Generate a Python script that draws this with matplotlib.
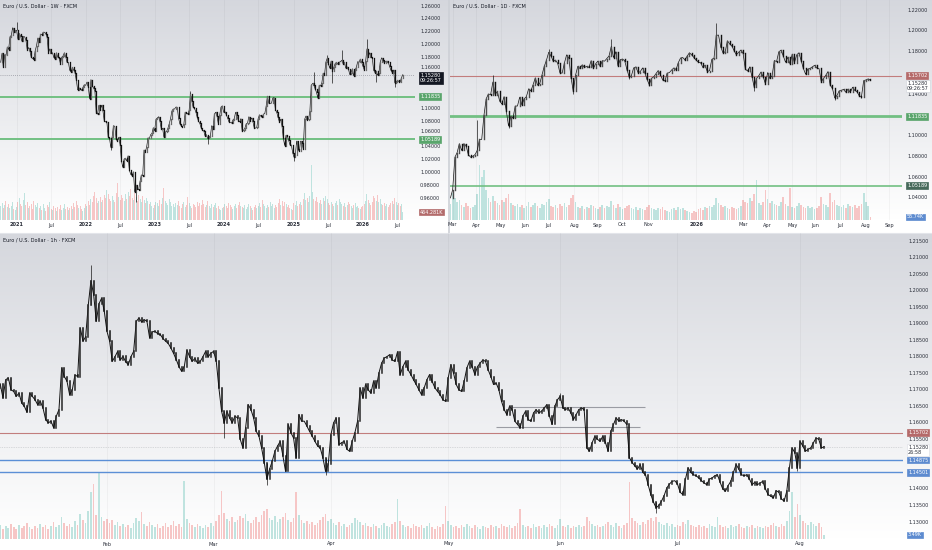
"""
EUR/USD multi timeframe layout: 1W / 1D / 1h panels, TradingView-like look
"""
import numpy as np
import pandas as pd
import matplotlib
matplotlib.use("Agg")
import matplotlib.pyplot as plt
from matplotlib.lines import Line2D
from matplotlib.transforms import blended_transform_factory

W, H = 932, 550

# ---------------- weekly (one candle per week from 2020-10-12) ----------------
weekly_start = "2020-10-12"
weekly_close = [
    1.172, 1.186, 1.164, 1.184, 1.183, 1.196, 1.192, 1.212, 1.214, 1.226, 1.219, 1.222,
    # 2021
    1.222, 1.208, 1.217, 1.213, 1.205, 1.212, 1.212, 1.207, 1.192, 1.195, 1.190, 1.180, 1.178,
    1.176, 1.190, 1.198, 1.210, 1.203, 1.216, 1.215, 1.219, 1.219, 1.217, 1.211, 1.187, 1.193,
    1.186, 1.187, 1.180, 1.177, 1.187, 1.180, 1.179, 1.170, 1.180, 1.182, 1.187, 1.181, 1.172,
    1.172, 1.160, 1.157, 1.164, 1.160, 1.156, 1.144, 1.129, 1.132, 1.131, 1.128, 1.133, 1.137,
    # 2022
    1.136, 1.141, 1.134, 1.115, 1.145, 1.135, 1.132, 1.127, 1.093, 1.091, 1.105, 1.098,
    1.105, 1.097, 1.081, 1.079, 1.079, 1.055, 1.053, 1.039, 1.056, 1.073, 1.072, 1.052, 1.049,
    1.055, 1.043, 1.018, 1.008, 1.021, 1.022, 1.018, 1.026, 1.003, 0.997, 0.995, 1.001, 0.969,
    0.980, 0.974, 0.973, 0.986, 0.996, 0.995, 1.035, 1.032, 1.040, 1.054, 1.053, 1.059, 1.061,
    1.070,
    # 2023
    1.065, 1.083, 1.085, 1.087, 1.080, 1.068, 1.069, 1.055, 1.063, 1.064, 1.069, 1.076, 1.084,
    1.096, 1.099, 1.099, 1.102, 1.102, 1.085, 1.076, 1.073, 1.071, 1.075, 1.094, 1.093, 1.091,
    1.097, 1.123, 1.112, 1.102, 1.100, 1.095, 1.087, 1.080, 1.077, 1.070, 1.066, 1.065, 1.057,
    1.059, 1.053, 1.055, 1.057, 1.073, 1.068, 1.091, 1.094, 1.088, 1.076, 1.089, 1.102, 1.104,
    # 2024
    1.094, 1.095, 1.090, 1.085, 1.079, 1.078, 1.077, 1.082, 1.084, 1.094, 1.089, 1.081, 1.079,
    1.084, 1.064, 1.066, 1.069, 1.076, 1.077, 1.087, 1.081, 1.085, 1.080, 1.070, 1.069, 1.071,
    1.084, 1.090, 1.088, 1.086, 1.091, 1.092, 1.103, 1.119, 1.108, 1.108, 1.108, 1.116, 1.117,
    1.098, 1.094, 1.086, 1.079, 1.083, 1.072, 1.053, 1.042, 1.058, 1.057, 1.050, 1.043, 1.043,
    1.031,
    # 2025
    1.024, 1.027, 1.049, 1.036, 1.033, 1.049, 1.046, 1.037, 1.083, 1.088, 1.082, 1.083,
    1.096, 1.136, 1.139, 1.137, 1.130, 1.125, 1.116, 1.136, 1.135, 1.140, 1.155, 1.152, 1.172,
    1.178, 1.169, 1.163, 1.174, 1.159, 1.164, 1.170, 1.172, 1.169, 1.172, 1.173, 1.175, 1.170,
    1.172, 1.163, 1.165, 1.162, 1.153, 1.156, 1.162, 1.151, 1.160, 1.164, 1.173, 1.172, 1.177,
    1.172,
    # 2026
    1.166, 1.160, 1.174, 1.193, 1.180, 1.187, 1.181, 1.179, 1.160, 1.156, 1.158, 1.152, 1.156,
    1.172, 1.179, 1.176, 1.171, 1.173, 1.174, 1.172, 1.166, 1.160, 1.156, 1.160, 1.140, 1.141,
    1.144, 1.142, 1.141, 1.148, 1.1528,
]
weekly_vol = [
    14, 17, 12, 15, 19, 13, 16, 12, 14, 18, 11, 10,
    13, 18, 22, 16, 14, 20, 27, 15, 18, 12, 14, 16, 11, 19, 15, 13, 17, 12, 14, 10,
    16, 12, 9, 15, 13, 18, 11, 10, 14, 12, 9, 13, 11, 15, 10, 12, 16, 11, 13, 10,
    12, 14, 11, 17, 13, 19, 15, 12, 14, 11, 9, 12,
    16, 14, 19, 15, 21, 18, 24, 28, 22, 17, 19, 23, 18, 20, 25, 22, 30, 26, 21, 19,
    24, 20, 18, 27, 37, 23, 20, 25, 22, 19, 26, 21, 28, 24, 31, 22, 20, 27, 23, 19,
    25, 21, 18, 24, 20, 17, 22, 19, 16, 18, 14, 12,
    15, 18, 17, 14, 20, 16, 22, 32, 19, 17, 15, 21, 18, 14, 16, 13, 17, 15, 19, 14,
    12, 16, 18, 13, 15, 23, 17, 14, 12, 16, 15, 13, 18, 14, 17, 15, 20, 16, 13, 15,
    19, 14, 12, 16, 13, 15, 17, 12, 14, 11, 10, 12,
    13, 16, 14, 12, 17, 15, 13, 11, 14, 16, 12, 15, 18, 14, 13, 12, 15, 11, 13, 16,
    14, 12, 10, 13, 15, 12, 14, 17, 13, 20, 16, 14, 12, 15, 13, 18, 14, 16, 12, 15,
    13, 17, 21, 15, 19, 14, 18, 16, 13, 15, 12, 11, 10,
    17, 15, 19, 14, 16, 18, 15, 21, 27, 20, 22, 18, 24, 55, 28, 21, 19, 23, 18, 17,
    20, 16, 22, 19, 24, 21, 17, 15, 18, 16, 14, 17, 19, 15, 21, 18, 16, 14, 17, 13,
    15, 18, 16, 14, 12, 15, 17, 13, 14, 12, 11, 13,
    14, 16, 19, 26, 20, 17, 15, 18, 24, 22, 19, 25, 18, 21, 16, 15, 17, 14, 16, 13,
    15, 17, 19, 16, 22, 18, 15, 17, 14, 16, 8,
]
weekly_wicks = {12: 1.2345, 83: 1.0350, 102: 0.9540, 143: 1.1276, 156: 1.0448,
                221: 1.0178, 236: 1.1573, 246: 1.1830, 250: 1.1391, 257: 1.1918,
                276: 1.2080, 283: 1.1420, 297: 1.1335}
weekly_levels = [1.11835, 1.05189]
weekly_ticks = ["2021-01", "2021-07", "2022-01", "2022-07", "2023-01", "2023-07",
                "2024-01", "2024-07", "2025-01", "2025-07", "2026-01", "2026-07"]

# ---------------- daily (one candle every 2 sessions from 2025-02-27) ----------------
daily_start = "2025-02-27"
daily_close = [
    1.0400, 1.0480, 1.0790, 1.0835, 1.0920, 1.0855, 1.0920, 1.0900, 1.0815, 1.0790,
    1.0800, 1.0815, 1.0855, 1.0960, 1.0960, 1.1190, 1.1350, 1.1395, 1.1390, 1.1510,
    1.1390, 1.1420, 1.1330, 1.1300, 1.1370, 1.1235, 1.1090, 1.1180, 1.1165, 1.1280,
    1.1280, 1.1365, 1.1290, 1.1350, 1.1370, 1.1445, 1.1425, 1.1485, 1.1550, 1.1480,
    1.1495, 1.1580, 1.1660, 1.1720, 1.1795, 1.1760, 1.1710, 1.1720, 1.1690, 1.1600,
    1.1595, 1.1690, 1.1770, 1.1740, 1.1550, 1.1420, 1.1575, 1.1660, 1.1640, 1.1675,
    1.1650, 1.1660, 1.1650, 1.1715, 1.1640, 1.1685, 1.1710, 1.1660, 1.1715, 1.1710,
    1.1735, 1.1760, 1.1850, 1.1745, 1.1800, 1.1665, 1.1725, 1.1730, 1.1715, 1.1630,
    1.1560, 1.1570, 1.1645, 1.1655, 1.1600, 1.1610, 1.1645, 1.1600, 1.1535, 1.1485,
    1.1545, 1.1560, 1.1590, 1.1620, 1.1580, 1.1530, 1.1520, 1.1595, 1.1600, 1.1625,
    1.1645, 1.1630, 1.1695, 1.1740, 1.1745, 1.1720, 1.1760, 1.1790, 1.1770, 1.1745,
    1.1720, 1.1700, 1.1695, 1.1650, 1.1670, 1.1610, 1.1620, 1.1726, 1.1740, 1.1957,
    1.1960, 1.1847, 1.1790, 1.1800, 1.1905, 1.1875, 1.1855, 1.1810, 1.1770, 1.1795,
    1.1816, 1.1786, 1.1635, 1.1615, 1.1655, 1.1560, 1.1460, 1.1544, 1.1570, 1.1605,
    1.1560, 1.1494, 1.1600, 1.1544, 1.1570, 1.1716, 1.1706, 1.1800, 1.1815, 1.1760,
    1.1700, 1.1746, 1.1685, 1.1776, 1.1695, 1.1770, 1.1790, 1.1716, 1.1640, 1.1585,
    1.1635, 1.1640, 1.1655, 1.1670, 1.1645, 1.1640, 1.1514, 1.1544, 1.1574, 1.1610,
    1.1480, 1.1450, 1.1360, 1.1380, 1.1425, 1.1430, 1.1440, 1.1413, 1.1443, 1.1410,
    1.1460, 1.1430, 1.1418, 1.1378, 1.1370, 1.1524, 1.1530, 1.1540, 1.1528,
]
daily_vol = [
    16, 27, 22, 18, 20, 15, 13, 17, 14, 12, 13, 15, 26, 55, 43, 50, 30, 22, 18, 24,
    19, 17, 15, 20, 18, 22, 26, 17, 15, 14, 16, 13, 15, 12, 14, 18, 13, 15, 17, 14,
    12, 16, 15, 18, 21, 14, 13, 15, 12, 16, 14, 17, 13, 15, 22, 25, 18, 13, 12, 14,
    11, 13, 12, 15, 14, 12, 11, 13, 15, 12, 14, 13, 19, 15, 12, 16, 13, 11, 12, 14,
    15, 12, 11, 13, 10, 12, 11, 10, 13, 15, 12, 11, 10, 12, 11, 13, 10, 9, 8, 11,
    12, 10, 13, 11, 12, 10, 9, 8, 7, 9, 8, 11, 12, 10, 13, 12, 14, 13, 15, 22,
    17, 15, 13, 14, 12, 11, 13, 12, 11, 12, 14, 20, 18, 17, 22, 19, 26, 40, 17, 15,
    18, 30, 21, 17, 19, 16, 15, 14, 18, 23, 16, 14, 32, 13, 12, 14, 17, 15, 13, 12,
    14, 12, 13, 11, 12, 14, 23, 16, 15, 13, 27, 18, 20, 15, 14, 13, 15, 12, 16, 14,
    13, 15, 12, 14, 16, 27, 18, 14, 3,
]
daily_wicks = {12: 1.1147, 19: 1.1573, 26: 1.1065, 44: 1.1830, 55: 1.1391, 72: 1.1918,
               80: 1.1540, 89: 1.1470, 119: 1.2075, 136: 1.1420, 172: 1.1335, 184: 1.1355}
daily_red = 1.15702
daily_green = [1.11835, 1.05189]
daily_ticks = ["2025-03", "2025-04", "2025-05", "2025-06", "2025-07", "2025-08", "2025-09",
               "2025-10", "2025-11", "2026-01", "2026-03", "2026-04", "2026-05", "2026-06",
               "2026-07", "2026-08", "2026-09"]

# ---------------- hourly (two candles per session from 2026-01-02) ----------------
hourly_start = "2026-01-02"
hourly_close = [
    1.1720, 1.1705, 1.1716, 1.1675, 1.1730, 1.1736, 1.1700, 1.1695, 1.1680, 1.1690, 1.1660, 1.1650,
    1.1632, 1.1690, 1.1680, 1.1670, 1.1655, 1.1665, 1.1645, 1.1610, 1.1600, 1.1605, 1.1585, 1.1620,
    1.1640, 1.1766, 1.1740, 1.1726, 1.1685, 1.1700, 1.1745, 1.1740, 1.1887, 1.1847, 1.1860, 1.1957,
    1.2030, 1.1988, 1.1907, 1.1960, 1.1977, 1.1937, 1.1877, 1.1847, 1.1786, 1.1800, 1.1816, 1.1790,
    1.1801, 1.1785, 1.1776, 1.1800, 1.1816, 1.1907, 1.1917, 1.1905, 1.1912, 1.1907, 1.1857, 1.1875,
    1.1877, 1.1870, 1.1867, 1.1855, 1.1847, 1.1840, 1.1826, 1.1810, 1.1791, 1.1770, 1.1756, 1.1770,
    1.1820, 1.1800, 1.1786, 1.1795, 1.1780, 1.1786, 1.1800, 1.1816, 1.1800, 1.1811, 1.1816, 1.1786,
    1.1705, 1.1635, 1.1600, 1.1635, 1.1615, 1.1600, 1.1620, 1.1615, 1.1550, 1.1524, 1.1585, 1.1655,
    1.1640, 1.1615, 1.1574, 1.1560, 1.1524, 1.1480, 1.1430, 1.1460, 1.1484, 1.1514, 1.1530, 1.1544,
    1.1500, 1.1453, 1.1595, 1.1570, 1.1554, 1.1494, 1.1625, 1.1605, 1.1605, 1.1590, 1.1574, 1.1560,
    1.1544, 1.1530, 1.1524, 1.1494, 1.1453, 1.1474, 1.1564, 1.1600, 1.1615, 1.1534, 1.1540, 1.1544,
    1.1520, 1.1514, 1.1544, 1.1570, 1.1605, 1.1705, 1.1675, 1.1716, 1.1700, 1.1690, 1.1726, 1.1706,
    1.1750, 1.1780, 1.1796, 1.1800, 1.1806, 1.1790, 1.1786, 1.1815, 1.1746, 1.1770, 1.1786, 1.1760,
    1.1746, 1.1730, 1.1716, 1.1700, 1.1685, 1.1706, 1.1730, 1.1746, 1.1725, 1.1706, 1.1695, 1.1685,
    1.1670, 1.1665, 1.1736, 1.1776, 1.1750, 1.1716, 1.1700, 1.1695, 1.1726, 1.1766, 1.1786, 1.1770,
    1.1746, 1.1770, 1.1781, 1.1790, 1.1786, 1.1760, 1.1740, 1.1716, 1.1720, 1.1700, 1.1665, 1.1640,
    1.1625, 1.1650, 1.1640, 1.1605, 1.1595, 1.1585, 1.1620, 1.1635, 1.1610, 1.1605, 1.1630, 1.1640,
    1.1630, 1.1635, 1.1645, 1.1655, 1.1620, 1.1595, 1.1650, 1.1670, 1.1680, 1.1645, 1.1640, 1.1645,
    1.1630, 1.1610, 1.1625, 1.1640, 1.1645, 1.1640, 1.1524, 1.1514, 1.1540, 1.1559, 1.1550, 1.1544,
    1.1560, 1.1540, 1.1514, 1.1574, 1.1595, 1.1615, 1.1605, 1.1610, 1.1605, 1.1595, 1.1494, 1.1480,
    1.1470, 1.1460, 1.1474, 1.1450, 1.1443, 1.1413, 1.1383, 1.1360, 1.1343, 1.1350, 1.1363, 1.1380,
    1.1403, 1.1415, 1.1423, 1.1425, 1.1415, 1.1390, 1.1383, 1.1430, 1.1464, 1.1450, 1.1443, 1.1440,
    1.1433, 1.1425, 1.1418, 1.1413, 1.1430, 1.1433, 1.1440, 1.1443, 1.1420, 1.1400, 1.1393, 1.1410,
    1.1423, 1.1450, 1.1474, 1.1460, 1.1443, 1.1440, 1.1443, 1.1430, 1.1413, 1.1420, 1.1413, 1.1418,
    1.1423, 1.1400, 1.1383, 1.1378, 1.1373, 1.1395, 1.1390, 1.1370, 1.1363, 1.1393, 1.1464, 1.1524,
    1.1510, 1.1464, 1.1544, 1.1530, 1.1514, 1.1520, 1.1524, 1.1540, 1.1554, 1.1550, 1.1524, 1.1528,
]
hourly_vol = [
    9, 12, 14, 10, 13, 11, 15, 12, 10, 14, 11, 13,
    16, 12, 10, 13, 11, 15, 12, 14, 10, 13, 17, 12,
    14, 22, 16, 13, 15, 12, 18, 14, 25, 19, 16, 28,
    47, 55, 24, 67, 22, 18, 20, 16, 19, 14, 17, 13,
    15, 12, 14, 11, 16, 21, 18, 27, 15, 13, 17, 14,
    12, 15, 11, 13, 16, 12, 14, 18, 13, 15, 12, 58,
    20, 16, 14, 12, 15, 13, 11, 14, 12, 16, 13, 18,
    24, 48, 26, 20, 18, 22, 17, 19, 23, 21, 25, 18,
    16, 19, 22, 17, 24, 28, 30, 21, 19, 23, 17, 20,
    22, 26, 19, 17, 21, 47, 24, 19, 16, 18, 15, 17,
    14, 16, 19, 22, 25, 18, 20, 16, 14, 17, 13, 15,
    12, 14, 16, 21, 19, 17, 14, 16, 13, 12, 15, 13,
    11, 14, 16, 13, 12, 15, 17, 40, 18, 14, 12, 13,
    11, 15, 13, 12, 14, 11, 13, 16, 12, 10, 13, 12,
    15, 33, 18, 14, 12, 13, 11, 14, 12, 15, 13, 11,
    14, 12, 10, 13, 12, 11, 14, 12, 13, 11, 15, 13,
    12, 14, 11, 13, 16, 30, 14, 12, 13, 11, 15, 12,
    13, 11, 14, 12, 15, 13, 11, 14, 20, 13, 12, 14,
    11, 13, 12, 14, 12, 13, 22, 18, 15, 13, 14, 12,
    13, 15, 17, 14, 12, 16, 13, 11, 14, 16, 57, 21,
    18, 16, 14, 17, 15, 19, 21, 18, 22, 17, 15, 14,
    16, 13, 15, 12, 14, 13, 17, 15, 19, 14, 13, 12,
    14, 12, 13, 11, 15, 13, 12, 22, 14, 12, 13, 11,
    14, 12, 13, 15, 12, 11, 13, 12, 14, 11, 13, 12,
    11, 13, 12, 14, 16, 13, 12, 15, 13, 18, 28, 47,
    22, 35, 24, 18, 16, 14, 17, 15, 13, 16, 12, 4,
]
hourly_wicks = {36: 1.2078, 86: 1.1554, 102: 1.1413, 124: 1.1443, 212: 1.1690,
                248: 1.1327, 301: 1.1453}
hourly_red = 1.15702
hourly_blue = [1.14875, 1.14501]
hourly_ranges = [("2026-05-19", "2026-06-23", 1.1647), ("2026-05-14", "2026-06-22", 1.1586)]
hourly_ticks = ["2026-02", "2026-03", "2026-04", "2026-05", "2026-06", "2026-07", "2026-08"]

last_price = 1.15280

DOWN, WICK = "#111111", "#1a1a1a"
VOL_UP, VOL_DN = "#bfe3df", "#f6c6c6"
TXT = "#2a2e39"
GREEN, GREEN_BOX = "#72c083", "#5aa56c"
RED, RED_BOX = "#c27d7d", "#b56a6a"
BLUE, BLUE_BOX = "#5b8fd6", "#5d8bd0"
FS = 3.5


def px_rect(x0, y0, x1, y1):
    return [x0 / W, 1 - y1 / H, (x1 - x0) / W, (y1 - y0) / H]


def gradient(x0, y0, x1, y1):
    bg = fig.add_axes(px_rect(x0, y0, x1, y1), zorder=0)
    t = np.linspace(0, 1, 200).reshape(-1, 1, 1)
    top = np.array([0.835, 0.843, 0.867])
    bg.imshow(top + (1 - top) * t, aspect="auto", extent=[0, 1, 0, 1])
    bg.axis("off")


def panel(rect, vol_px):
    axv = fig.add_axes(rect, zorder=1)
    ax = fig.add_axes(rect, zorder=2, sharex=axv)
    axv.set_ylim(0, vol_px)
    axv.axis("off")
    ax.patch.set_visible(False)
    return ax, axv


def candles(ax, axv, x, close, vol, wicks, lw, bar_w, up_col, joint=0.0):
    n = min(len(close), len(vol))
    x = np.asarray(x[:n], dtype=float)
    c = np.asarray(close[:n])
    v = np.asarray(vol[:n])
    o = np.r_[c[0], c[:-1]]
    up = c >= o
    lo, hi = np.minimum(o, c), np.maximum(o, c)
    axv.bar(x[up], v[up], width=bar_w, color=VOL_UP, lw=0)
    axv.bar(x[~up], v[~up], width=bar_w, color=VOL_DN, lw=0)
    for i, p in wicks.items():
        if i < n:
            ax.vlines(x[i], min(p, lo[i]), max(p, hi[i]), color=WICK, lw=0.5, zorder=3)
    if joint:
        # thin joint between neighbouring bars, like the wick noise of the real chart
        ax.plot(x, c, color=DOWN, lw=joint, zorder=3)
    ax.vlines(x[up], lo[up], hi[up], color=up_col, lw=lw, capstyle="projecting", zorder=4)
    ax.vlines(x[~up], lo[~up], hi[~up], color=DOWN, lw=lw, capstyle="projecting", zorder=4)
    return v[-1]


def tick_info(index, months):
    starts = pd.to_datetime(months)
    pos = [int(index.searchsorted(s)) for s in starts]
    lab = [s.strftime("%Y") if s.month == 1 else s.strftime("%b") for s in starts]
    return pos, lab


def style(ax, ylim, xlim, xpos, xlab):
    ax.set_xlim(xlim)
    ax.set_ylim(ylim)
    for s in ax.spines.values():
        s.set_visible(False)
    ax.set_yticks([])
    ax.set_xticks(xpos)
    ax.set_xticklabels(xlab)
    ax.tick_params(axis="x", length=0, pad=1.8, labelsize=3.6, labelcolor=TXT)
    for t, lab in zip(ax.get_xticklabels(), xlab):
        if lab.isdigit():
            t.set_fontweight("bold")
    ax.grid(axis="x", color="#000000", alpha=0.045, lw=0.6)


def price_scale(ax, lo, hi, step, hide=(), nudge=None):
    # right-hand price labels; labels sitting under a tag are left out, near ones nudged
    nudge = nudge or {}
    tr = blended_transform_factory(ax.transAxes, ax.transData)
    for t in np.round(np.arange(lo, hi + step / 2, step), 3):
        if t in hide:
            continue
        ax.annotate(f"{t:.5f}", xy=(1, t), xycoords=tr, xytext=(3.6, nudge.get(t, 0)),
                    textcoords="offset points", ha="left", va="center", fontsize=FS,
                    color=TXT, annotation_clip=False)


def tag(ax, y, text, fc, tc="white", ec=None, va="center", dy=0, ytrans=None):
    tr = blended_transform_factory(ax.transAxes, ytrans or ax.transData)
    ax.annotate(text, xy=(1, y), xycoords=tr, xytext=(3.6, dy), textcoords="offset points",
                ha="left", va=va, fontsize=FS, color=tc, linespacing=1.0,
                bbox=dict(boxstyle="square,pad=0.2", fc=fc, ec=ec or fc, lw=0.5),
                annotation_clip=False, zorder=10)


fig = plt.figure(figsize=(W / 100, H / 100), dpi=100)
fig.patch.set_facecolor("white")

gradient(0, 0, W, 220)
gradient(0, 233, W, 539)
fig.add_artist(Line2D([448.5 / W] * 2, [1, 1 - 233 / H], color="#cdd0d6", lw=1.2))
fig.add_artist(Line2D([0, 1], [1 - 232.5 / H] * 2, color="#e3e5ea", lw=0.8))

# ---- weekly ----
ax_w, axv_w = panel(px_rect(0, 0, 415, 220), 220)
w_index = pd.date_range(weekly_start, periods=400, freq="W-MON")
w_last = candles(ax_w, axv_w, np.arange(len(weekly_close)), weekly_close, weekly_vol,
                 weekly_wicks, 0.9, 0.75, "#6a6a6a", joint=0.45)
xpos, xlab = tick_info(w_index, weekly_ticks)
style(ax_w, (0.92563, 1.26938), (-0.51, 312.2), xpos, xlab)
price_scale(ax_w, 0.96, 1.26, 0.02, hide={1.12, 1.14}, nudge={1.16: 1.6, 1.06: 1.5})
for lv in weekly_levels:
    ax_w.axhline(lv, color=GREEN, lw=1.4, zorder=2)
    tag(ax_w, lv, f"{lv:.5f}", GREEN_BOX)
ax_w.axhline(last_price, color="#9598a1", lw=0.6, ls=(0, (1, 1.5)), zorder=2)
tag(ax_w, last_price, "1.15280\n09:26:57", "#131722", va="top", dy=1.1)
tag(ax_w, w_last, "464.281K", "#b36b6b", ytrans=axv_w.transData)

# ---- daily ----
ax_d, axv_d = panel(px_rect(450, 0, 902, 220), 220)
d_index = pd.bdate_range(daily_start, periods=440)
d_last = candles(ax_d, axv_d, np.arange(len(daily_close)) * 2, daily_close, daily_vol,
                 daily_wicks, 1.0, 1.5, "#4d4d4d", joint=0.5)
xpos, xlab = tick_info(d_index, daily_ticks)
style(ax_d, (1.01885, 1.22958), (-0.39, 404.3), xpos, xlab)
price_scale(ax_d, 1.04, 1.22, 0.02, hide={1.16, 1.12}, nudge={1.14: -1.0})
ax_d.axhline(daily_red, color=RED, lw=0.8, zorder=2)
ax_d.axhline(daily_green[0], color=GREEN, lw=2.0, zorder=2)
ax_d.axhline(daily_green[1], color=GREEN, lw=1.2, zorder=2)
tag(ax_d, daily_red, f"{daily_red:.5f}", RED_BOX)
tag(ax_d, last_price, "1.15280\n09:26:57", "white", tc=TXT, ec="#d5d8de", va="top", dy=-0.7)
tag(ax_d, daily_green[0], f"{daily_green[0]:.5f}", GREEN_BOX)
tag(ax_d, daily_green[1], f"{daily_green[1]:.5f}", "#46695a")
tag(ax_d, d_last, "55.74K", BLUE_BOX, ytrans=axv_d.transData)

# ---- hourly ----
ax_h, axv_h = panel(px_rect(0, 233, 903, 539), 306)
h_index = pd.bdate_range(hourly_start, periods=200)
h_last = candles(ax_h, axv_h, np.arange(len(hourly_close)) / 2, hourly_close, hourly_vol,
                 hourly_wicks, 1.1, 0.32, "#262626", joint=0.7)
xpos, xlab = tick_info(h_index, hourly_ticks)
style(ax_h, (1.12486, 1.21742), (0.94, 170.3), xpos, xlab)
price_scale(ax_h, 1.13, 1.215, 0.005, hide={1.15, 1.145}, nudge={1.155: -0.4})
ax_h.axhline(hourly_red, color=RED, lw=0.8, zorder=2)
for lv in hourly_blue:
    ax_h.axhline(lv, color=BLUE, lw=1.0, zorder=2)
for d0, d1, lv in hourly_ranges:
    i0, i1 = h_index.searchsorted(pd.Timestamp(d0)), h_index.searchsorted(pd.Timestamp(d1))
    ax_h.hlines(lv, i0, i1, color="#9a9ca3", lw=0.8, zorder=2)
ax_h.axhline(last_price, color="#9598a1", lw=0.5, ls=(0, (1, 1.5)), alpha=0.6, zorder=2)
tag(ax_h, hourly_red, f"{hourly_red:.5f}", RED_BOX)
tag(ax_h, last_price, "1.15280\n26:58", "white", tc=TXT, ec="#e0e2e7", va="top", dy=1.1)
for lv in hourly_blue:
    tag(ax_h, lv, f"{lv:.5f}", BLUE_BOX)
tag(ax_h, h_last, "3.49K", BLUE_BOX, ytrans=axv_h.transData)

# titles
for x, y, s in [(3, 6, "Euro / U.S. Dollar · 1W · FXCM"),
                (453, 6, "Euro / U.S. Dollar · 1D · FXCM"),
                (3, 240, "Euro / U.S. Dollar · 1h · FXCM")]:
    fig.text(x / W, 1 - y / H, s, fontsize=3.6, color="#131722", va="center", ha="left")

fig.savefig("out.png", dpi=100)
